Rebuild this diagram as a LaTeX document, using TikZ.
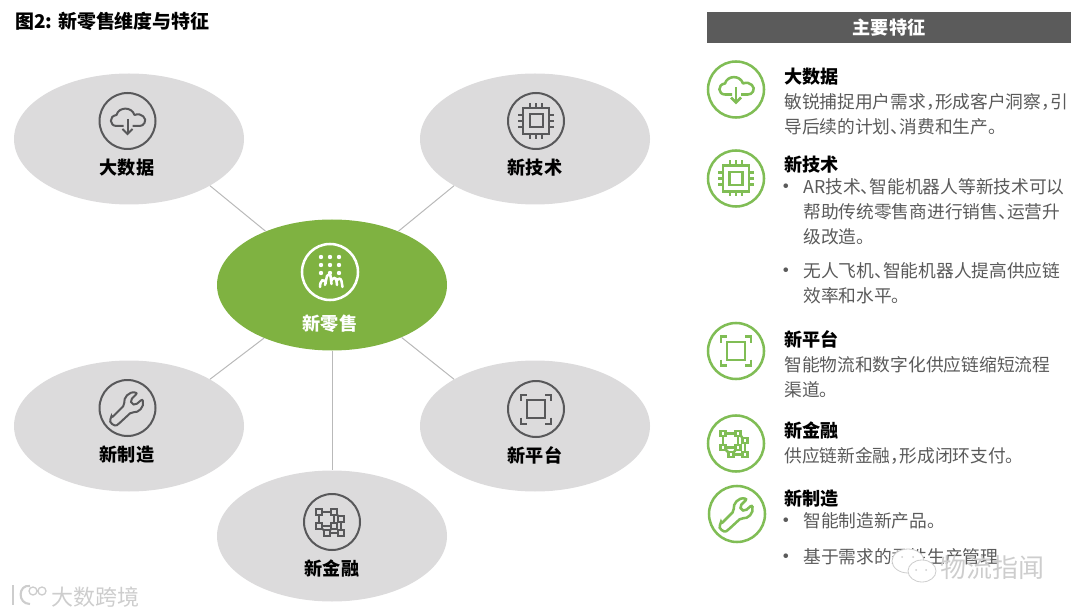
\documentclass[tikz,border=0pt]{standalone}
\usepackage{fontspec}
\setmainfont{Noto Sans CJK SC}[RawFeature=+halt]
\usetikzlibrary{arrows.meta,positioning,shapes.geometric}
\definecolor{oval}{HTML}{DCDBDC}
\definecolor{leaf}{HTML}{7FB241}
\definecolor{ring}{HTML}{80BD55}
\definecolor{ink}{HTML}{58585A}
\definecolor{bodyink}{HTML}{5A5A5A}
\definecolor{spoke}{HTML}{B9B9B9}
\definecolor{bar}{HTML}{5B5B5B}
\definecolor{wmark}{HTML}{CDCDCD}
\tikzset{
 darkicon/.style={draw=ink,line width=1.5pt},
 greenicon/.style={draw=ring,line width=1.9pt},
 whiteicon/.style={draw=white,line width=1.9pt},
 cloudicon/.pic={
  \path[#1] (0,0) circle (28);
  \path[#1,line join=round] (-4,5) -- (-11,5) .. controls (-18,5) and (-19,-5) .. (-11,-6) .. controls (-9,-14) and (4,-15) .. (7,-6) .. controls (14,-9) and (20,-2) .. (17,2) .. controls (16,4) and (14,5) .. (12,5) -- (5,5);
  \path[#1] (0,-2) -- (0,13);
  \path[#1] (-5,8) -- (0,13) -- (5,8);
 },
 chipicon/.pic={
  \path[#1] (0,0) circle (28);
  \path[#1] (-13,-13) rectangle (13,13);
  \path[#1] (-6.5,-6.5) rectangle (6.5,6.5);
  \foreach \p in {-6,0,6}{
   \path[#1] (\p,-13) -- (\p,-18);
   \path[#1] (\p,13) -- (\p,18);
   \path[#1] (-13,\p) -- (-18,\p);
   \path[#1] (13,\p) -- (18,\p);
  }
 },
 frameicon/.pic={
  \path[#1] (0,0) circle (28);
  \path[#1] (-9,-9) rectangle (9,9);
  \path[#1] (-15,-8.5) -- (-15,-14.5) -- (-9,-14.5);
  \path[#1] (15,-8.5) -- (15,-14.5) -- (9,-14.5);
  \path[#1] (-15,8.5) -- (-15,14.5) -- (-9,14.5);
  \path[#1] (15,8.5) -- (15,14.5) -- (9,14.5);
 },
 meshicon/.pic={
  \path[#1] (0,0) circle (28);
  \foreach \a/\b in {-13/-10,2/-10,9/-3,-13/4,2/4,-5/11,9/11}
   \path[#1] (\a-2.7,\b-2.7) rectangle (\a+2.7,\b+2.7);
  \path[#1] (-10.3,-10) -- (-.7,-10);
  \path[#1] (-13,-7.3) -- (-13,1.3);
  \path[#1] (2,-7.3) -- (2,1.3);
  \path[#1] (4.7,-8) -- (6.5,-5.5);
  \path[#1] (9,-.3) -- (9,8.3);
  \path[#1] (-10.5,6) -- (-7.5,9);
  \path[#1] (0,6) -- (-2.5,9);
  \path[#1] (-2.3,11) -- (6.3,11);
  \path[#1] (-10.3,4) -- (-.7,4);
 },
 wrenchicon/.pic={
  \path[#1] (0,0) circle (28);
  \path[#1,rounded corners=1.5pt] (-16,10) -- (-3,-3) .. controls (-4,-10) and (1,-17) .. (10,-15) -- (3,-8) -- (4,-4) -- (8,-3) -- (15,-9) .. controls (17,-1) and (11,5) .. (4,4) -- (-9,16) .. controls (-13,19) and (-19,14) .. cycle;
 },
 touchicon/.pic={
  \path[#1] (0,0) circle (28);
  \foreach \a in {-9,0,9}
   \foreach \b in {-15,-7,1}
    \fill[white] (\a,\b) circle (2.2);
  \path[#1,line cap=round] (-10,15) .. controls (-10,8) and (-6,6) .. (-4,11);
  \path[#1,line cap=round] (-5,13) -- (-3,4) .. controls (-2,2) and (0,2) .. (0.5,4) -- (1.5,12);
  \path[#1,line cap=round] (1,9) .. controls (3,5) and (6,5) .. (6.5,9) -- (7,13);
  \path[#1,line cap=round] (6.5,9) .. controls (8,6) and (11,6) .. (11.5,9) -- (12.5,15);
 }
}
\begin{document}
\begin{tikzpicture}[x=0.75pt,y=-0.75pt,font=\fontsize{13.3}{18.75}\selectfont,
 blob/.style={ellipse,fill=oval,minimum width=172.5pt,minimum height=98.25pt,inner sep=0pt},
 tag/.style={font=\fontsize{13.6}{15}\selectfont\bfseries,inner sep=0pt},
 head/.style={font=\fontsize{13.6}{15}\selectfont\bfseries,inner sep=0pt,anchor=west},
 note/.style={text=bodyink,align=left,inner sep=0pt,anchor=north west},
 tick/.style={text=bodyink,inner sep=0pt,font=\fontsize{12.4}{15}\selectfont\bfseries},
 link/.style={draw=spoke,line width=.75pt},
 stamp/.style={text=wmark,inner sep=0pt}]
\useasboundingbox (0,0) rectangle (1080,616);
\node[font=\fontsize{14.2}{16}\selectfont\bfseries,inner sep=0pt,anchor=west] (title) at (15,21) {图2: 新零售维度与特征};

% left: the six ovals
\node[blob] (bigdata) at (129,139) {};
\node[blob] (tech) at (535,139) {};
\node[blob,fill=leaf] (core) at (332,285) {};
\node[blob] (make) at (129,426) {};
\node[blob] (platform) at (535,426) {};
\node[blob] (finance) at (332,536) {};
\draw[link] (bigdata.-30) -- (core.141);
\draw[link] (core.39) -- (tech.210);
\draw[link] (core.218) -- (make.30);
\draw[link] (core.-37) -- (platform.150);
\draw[link] (core.south) -- (finance.north);

\pic at (127.5,121) {cloudicon=darkicon};
\pic at (536,121) {chipicon=darkicon};
\pic at (330,272) {touchicon=whiteicon};
\pic at (127.5,408) {wrenchicon=darkicon};
\pic at (536,409) {frameicon=darkicon};
\pic at (332,522) {meshicon=darkicon};
\node[tag,below=15pt of bigdata.center,xshift=-1.5pt] (bigdatatag) {大数据};
\node[tag,below=15pt of tech.center] (techtag) {新技术};
\node[tag,below=22.5pt of core.center,xshift=-1.5pt,text=white] (coretag) {新零售};
\node[tag,below=15pt of make.center,xshift=-1.5pt] (maketag) {新制造};
\node[tag,below=15pt of platform.center] (platformtag) {新平台};
\node[tag,below=18pt of finance.center] (financetag) {新金融};

% right: feature list
\node[fill=bar,text=white,minimum width=273pt,minimum height=23.25pt,inner sep=0pt,font=\fontsize{13.6}{15}\selectfont\bfseries] (barhead) at (889,27.5) {主要特征};

\pic at (736,89.5) {cloudicon=greenicon};
\pic at (736,178.5) {chipicon=greenicon};
\pic at (736,351) {frameicon=greenicon};
\pic at (736,443.5) {meshicon=greenicon};
\pic at (737,514) {wrenchicon=greenicon};

\node[head] (bigdatahead) at (784,76.5) {大数据};
\node[note,below=6pt of bigdatahead.south west,anchor=north west] (bigdatanote) {敏锐捕捉用户需求，形成客户洞察，引\\导后续的计划、消费和生产。};
\node[head] (techhead) at (784,164.5) {新技术};
\node[note] (technotea) at (803,178.5) {AR技术、智能机器人等新技术可以\\帮助传统零售商进行销售、运营升\\级改造。};
\node[tick] (techticka) at (786,188) {·};
\node[note] (technoteb) at (803,262.5) {无人飞机、智能机器人提高供应链\\效率和水平。};
\node[tick] (techtickb) at (786,272) {·};
\node[head] (platformhead) at (784,339.5) {新平台};
\node[note,below=6pt of platformhead.south west,anchor=north west] (platformnote) {智能物流和数字化供应链缩短流程\\渠道。};
\node[head] (financehead) at (784,430.5) {新金融};
\node[note,below=6pt of financehead.south west,anchor=north west] (financenote) {供应链新金融，形成闭环支付。};
\node[head] (makehead) at (784,498.5) {新制造};
\node[note] (makenotea) at (803,512.5) {智能制造新产品。};
\node[tick] (maketicka) at (786,522) {·};
\node[note] (makenoteb) at (803,548.5) {基于需求的柔性生产管理};
\node[tick] (maketickb) at (786,558) {·};

% watermarks
\draw[draw=wmark,fill=white,line width=.6pt] (908,561) ellipse (16 and 12);
\draw[draw=wmark,fill=white,line width=.6pt] (922,571) ellipse (14 and 11);
\fill[wmark] (916,570) circle (1) (926,570) circle (1) (902,557) circle (1) (913,557) circle (1);
\node[stamp,font=\fontsize{19.5}{22}\selectfont] (wmarkright) at (992,568) {物流指闻};
\node[stamp,font=\fontsize{16.5}{20}\selectfont] (wmarkleft) at (95,597) {大数跨境};
\draw[wmark,line width=1.6pt] (13,585) -- (13,605);
\draw[wmark,line width=1.6pt] (30,586) .. controls (18,584) and (17,604) .. (30,604);
\draw[wmark,line width=1pt] (33,591) circle (4) (42,591) circle (4);
\end{tikzpicture}
\end{document}
